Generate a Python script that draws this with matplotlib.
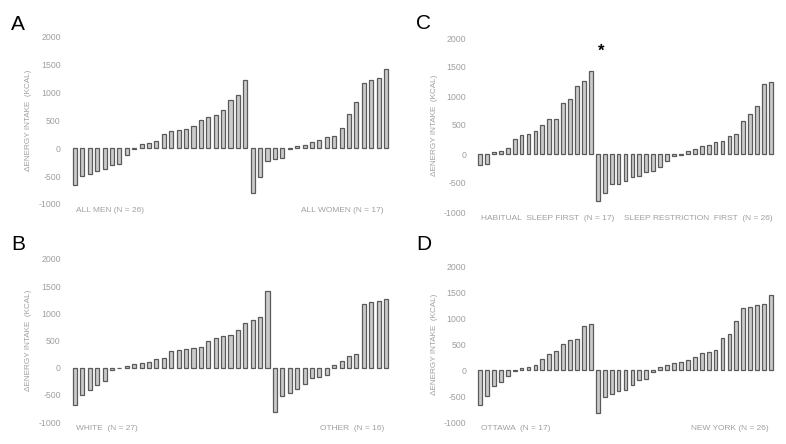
import matplotlib
matplotlib.use("Agg")
import matplotlib.pyplot as plt

plt.rcParams['font.family'] = ['Liberation Sans', 'DejaVu Sans']

# change in energy intake (kcal), each group sorted ascending
men = [-660, -500, -460, -410, -370, -300, -280, -120, -20, 70, 90, 140,
       265, 310, 325, 355, 395, 500, 570, 590, 685, 875, 950, 1220]
women = [-810, -510, -230, -185, -170, -20, 35, 55, 115, 155, 205, 230,
         365, 620, 840, 1180, 1235, 1260, 1430]

white = [-680, -510, -410, -325, -240, -35, -15, 30, 60, 85, 105, 160, 185,
         300, 320, 350, 355, 375, 490, 550, 575, 595, 685, 830, 870, 935, 1415]
other = [-825, -520, -470, -385, -295, -195, -180, -130, 45, 130, 215, 250,
         1175, 1205, 1230, 1255]

habitual_first = [-185, -180, 35, 55, 105, 265, 330, 345, 390, 495, 600,
                  610, 875, 940, 1180, 1260, 1430]
restriction_first = [-815, -665, -520, -510, -470, -400, -380, -315, -300,
                     -230, -120, -35, -15, 55, 80, 140, 155, 200, 220, 305,
                     350, 570, 685, 835, 1215, 1235]

ottawa = [-673, -505, -315, -235, -115, -15, 30, 65, 100, 220, 315, 365,
          495, 575, 595, 845, 880]
new_york = [-833, -520, -470, -410, -385, -295, -200, -180, -45, 50, 90, 135,
            150, 190, 250, 325, 350, 385, 615, 690, 950, 1185, 1220, 1245,
            1270, 1440]

yticks = [-1000, -500, 0, 500, 1000, 1500, 2000]

W, H = 786, 444
fig = plt.figure(figsize=(W / 100, H / 100), dpi=100)

grey = '#a0a0a0'


def panel(letter, first, second, lab1, lab2, x0, x42, ytop, ybot, letter_y,
          lab2_x=None, star=False):
    n = len(first) + len(second)
    pitch = (x42 - x0) / (n - 1)
    left = x0 - 0.8 * pitch
    right = x42 + 0.8 * pitch
    ax = fig.add_axes([left / W, 1 - ybot / H, (right - left) / W, (ybot - ytop) / H])
    vals = first + second
    ax.bar(range(n), vals, width=0.55, color='#cbcbcb', edgecolor='#5a5a5a', linewidth=0.9)
    ax.set_xlim(-0.8, n - 1 + 0.8)
    ax.set_ylim(-1000, 2000)
    ax.set_yticks(yticks)
    ax.set_yticklabels([str(t) for t in yticks])
    ax.tick_params(axis='y', length=0, labelsize=6.3, labelcolor=grey, pad=6)
    ax.set_xticks([])
    for s in ax.spines.values():
        s.set_visible(False)
    ax.patch.set_alpha(0)
    ax.text(0.1, -1120, lab1, fontsize=6, color=grey, ha='left', va='center')
    if lab2_x is not None:
        ax.text(lab2_x, -1120, lab2, fontsize=6, color=grey, ha='left', va='center')
    else:
        ax.text(n - 1 - 0.3, -1120, lab2, fontsize=6, color=grey, ha='right', va='center')
    if star:
        ax.text(len(first) + 0.5, 1770, '*', fontsize=12, fontweight='bold', ha='center', va='center')
    fig.text((x0 - 46) / W, 1 - (ytop + ybot) / 2 / H, 'ΔENERGY INTAKE  (KCAL)',
             rotation=90, fontsize=5.9, color=grey, ha='center', va='center')
    fig.text((x0 - 64) / W, 1 - letter_y / H, letter, fontsize=15, ha='left', va='baseline')
    return ax


panel('A', men, women, 'ALL MEN (N = 26)', 'ALL WOMEN (N = 17)', 75, 386, 37, 204, 30)
panel('B', white, other, 'WHITE  (N = 27)', 'OTHER  (N = 16)', 75, 386, 259, 422, 250)
panel('C', habitual_first, restriction_first, 'HABITUAL  SLEEP FIRST  (N = 17)',
      'SLEEP RESTRICTION  FIRST  (N = 26)', 480, 771, 38, 212, 29, lab2_x=20.8, star=True)
panel('D', ottawa, new_york, 'OTTAWA  (N = 17)', 'NEW YORK (N = 26)', 480, 771, 266, 422, 250)

fig.savefig('out.png', dpi=100)
